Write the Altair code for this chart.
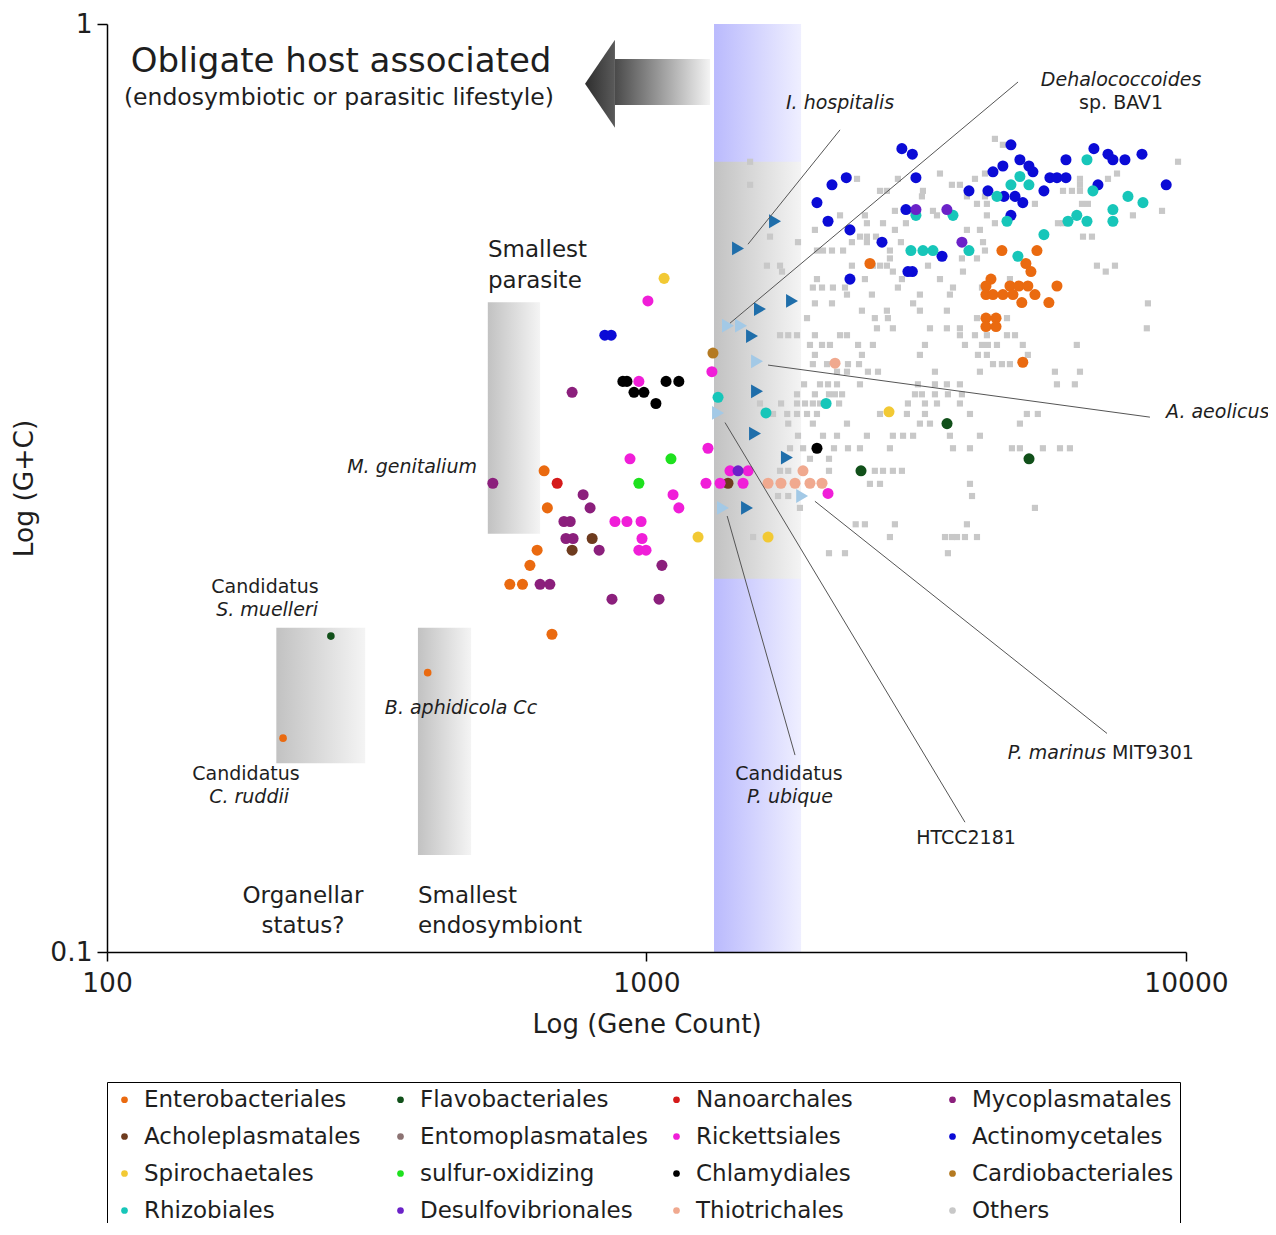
import altair as alt
import pandas as pd

FONT = "DejaVu Sans"
INK = "#1e1e1e"

# legend is filled column by column: 4 columns x 4 rows
categories = ["Enterobacteriales", "Acholeplasmatales", "Spirochaetales", "Rhizobiales",
              "Flavobacteriales", "Entomoplasmatales", "sulfur-oxidizing", "Desulfovibrionales",
              "Nanoarchales", "Rickettsiales", "Chlamydiales", "Thiotrichales",
              "Mycoplasmatales", "Actinomycetales", "Cardiobacteriales", "Others"]
palette = ["#ea6a10", "#6e3b1e", "#f2c934", "#17c6b9",
           "#11501a", "#8c7373", "#1ee11e", "#6b22c8",
           "#d51a1a", "#f01ed8", "#000000", "#f0a98f",
           "#8b1f7c", "#0b0bd6", "#b47a22", "#c8c8c8"]

# ---- coloured genomes (gene count, G+C fraction) ----
entero_gene = [2595, 4558, 5293, 5049, 5159, 4350, 4258, 4717, 4900, 5092, 5765, 4258, 4387, 4577,
               4778, 5248, 4962, 5570, 4258, 4445, 4258, 4445, 4983, 646, 655, 627, 608, 558, 589, 668]
entero_gc = [0.552, 0.570, 0.570, 0.552, 0.541, 0.531, 0.522, 0.522, 0.522, 0.522, 0.522, 0.511, 0.511, 0.511,
             0.511, 0.511, 0.501, 0.501, 0.482, 0.482, 0.472, 0.472, 0.432, 0.330, 0.301, 0.271, 0.261, 0.249, 0.249, 0.220]
flavo_gene = [2498, 3606, 5117]
flavo_gc = [0.330, 0.371, 0.340]
nano_gene = [683]
nano_gc = [0.320]
myco_gene = [519, 728, 763, 786, 703, 722, 709, 731, 817, 1068, 635, 662, 863, 1055]
myco_gc = [0.320, 0.401, 0.311, 0.301, 0.291, 0.291, 0.279, 0.279, 0.271, 0.261, 0.249, 0.249, 0.240, 0.240]
achole_gene = [793, 728, 1416]
achole_gc = [0.279, 0.271, 0.320]
entomo_gene = []
entomo_gc = []
rick_gene = [1006, 968, 1322, 1300, 932, 1120, 1148, 874, 920, 977, 981, 968, 998, 1289, 1428, 1543, 1510, 1369, 2170]
rick_gc = [0.503, 0.412, 0.422, 0.349, 0.340, 0.311, 0.301, 0.291, 0.291, 0.291, 0.279, 0.271, 0.271, 0.320,
           0.330, 0.330, 0.320, 0.320, 0.312]
actino_gene = [2974, 3110, 4737, 6750, 7168, 7320, 7706, 8287, 5991, 4922,
               5115, 4577, 4387, 5203, 5594, 5765, 5991, 2346, 2207, 3158,
               6868, 9190, 3960, 4294, 5453, 4597, 4820, 4983, 2070, 2170,
               2383, 3026, 4737, 2732, 3530, 3110, 3052, 2383, 837, 860]
actino_gc = [0.734, 0.724, 0.741, 0.734, 0.724, 0.714, 0.714, 0.724, 0.714, 0.714,
             0.703, 0.703, 0.693, 0.693, 0.683, 0.683, 0.683, 0.683, 0.671, 0.683,
             0.671, 0.671, 0.661, 0.661, 0.661, 0.652, 0.652, 0.642, 0.642, 0.613,
             0.600, 0.631, 0.622, 0.582, 0.562, 0.541, 0.541, 0.531, 0.462, 0.462]
spiro_gene = [1078, 1246, 1680, 2815]
spiro_gc = [0.532, 0.280, 0.280, 0.382]
sulfur_gene = [1110, 968]
sulfur_gc = [0.340, 0.320]
chlamy_gene = [904, 920, 948, 989, 1087, 1148, 1041, 2070]
chlamy_gc = [0.412, 0.412, 0.401, 0.401, 0.412, 0.412, 0.390, 0.349]
cardio_gene = [1328]
cardio_gc = [0.442]
rhizo_gene = [6553, 4922, 4737, 5115, 4463, 3158, 3699, 6722, 7806, 8322, 7320, 7320, 6275,
              6043, 6553, 4658, 5453, 3091, 3254, 3396, 3960, 4880, 1357, 1665, 2152]
rhizo_gc = [0.714, 0.685, 0.671, 0.671, 0.652, 0.622, 0.622, 0.661, 0.652, 0.642, 0.631, 0.613, 0.622,
            0.613, 0.613, 0.613, 0.593, 0.570, 0.570, 0.570, 0.570, 0.562, 0.396, 0.381, 0.390]
desulfo_gene = [3158, 3604, 3843, 1478]
desulfo_gc = [0.631, 0.631, 0.582, 0.330]
thio_gene = [2236, 1950, 1680, 1775, 1885, 2009, 2115]
thio_gc = [0.431, 0.330, 0.320, 0.320, 0.320, 0.320, 0.320]

# tiny endosymbiont genomes (B. aphidicola Cc, C. ruddii, S. muelleri)
endo_gene = [393, 212, 260]
endo_gc = [0.200, 0.170, 0.219]
endo_cat = ["Enterobacteriales", "Enterobacteriales", "Flavobacteriales"]

# ---- other genomes, by G+C row ----
others_gc = [0.752, 0.741, 0.7105, 0.690, 0.681, 0.671, 0.661, 0.652, 0.640, 0.629, 0.622, 0.610,
             0.600, 0.590, 0.582, 0.570, 0.559, 0.549, 0.541, 0.531, 0.520, 0.511, 0.500, 0.491,
             0.482, 0.470, 0.462, 0.451, 0.440, 0.430, 0.422, 0.409, 0.399, 0.390, 0.380, 0.371,
             0.360, 0.349, 0.340, 0.330, 0.3195, 0.310, 0.301, 0.289, 0.280, 0.269]
others_gene = [
    [4424], [4577], [1556, 9666], [3499, 4240, 7450], [2456, 2924, 4063, 6360, 7168],
    [1556, 3682, 3810, 6360], [2709, 2790, 3254, 5916, 6146, 6360], [3240, 3926, 4240],
    [4098, 4275, 5248, 6415, 6580], [2887, 3052, 3396, 9027], [2284, 2540, 3455, 4275, 7973],
    [2562, 2744, 3026, 4424, 5790, 5916], [2052, 2887, 3926, 4150],
    [1694, 2487, 2562, 2663, 6443, 6694], [1909, 2403, 2562, 2962, 4205],
    [2070, 2124, 2207, 2314, 2826, 4240], [2826, 3843, 4098],
    [1672, 1768, 2403, 2628, 2709, 2790, 3325, 6838, 7385], [1783, 2862, 3860, 7100],
    [2070, 2540, 2975, 3499, 4717], [2034, 2115, 2216, 2333, 2924, 3699, 4186],
    [2353, 2617, 3212, 3651], [2052, 2207, 3120, 8500], [2508, 2790, 3212, 3604],
    [1984, 2650, 2802, 4098, 4658], [2674, 2862, 3353, 3604, 3810, 8460],
    [1768, 1831, 1901, 2052, 2284, 2353, 3810, 4063, 4275, 4658, 4820],
    [2009, 2115, 2188, 2467, 2628, 3282, 3893, 4186, 4294, 4463, 4983, 6275],
    [2052, 2508, 3212, 4115, 4275, 5092], [2034, 2161, 2363, 2477, 4388, 4558, 4717],
    [2255, 2353, 2573, 2686, 3425, 4150, 5715, 6360],
    [1959, 2097, 2170, 2255, 2487, 3185, 3425, 3604, 3810, 5765, 6223],
    [1901, 2052, 2179, 2235, 2304, 3145, 3240, 3425, 3620, 3843],
    [1623, 1776, 1901, 1967, 2034, 2097, 2275, 3052, 3282, 3455, 3810],
    [1716, 1823, 1901, 1984, 2070, 2709, 3039, 3282, 3977, 5070, 5313],
    [1831, 2034, 2353, 3212, 3353, 4922],
    [1909, 2124, 2255, 2562, 2862, 2989, 3120, 3651, 4150],
    [1845, 1951, 2226, 2363, 2487, 2826, 3699, 3977, 4757, 4922, 5429, 5840, 6093],
    [2009, 2179], [1768, 1831, 2179, 2650, 2744, 2862, 2975], [2595, 2709, 3977],
    [1753, 1831, 4012], [1925, 5248], [2442, 2540, 2887, 3926],
    [1576, 2826, 3575, 3682, 3763, 3893, 4098], [2179, 2333, 3620],
]

# highlighted free-living streamlined genomes (triangles)
dark_tri_gene = [1478, 1731, 1623, 1861, 1569, 1603, 1589, 1821, 1536]
dark_tri_gc = [0.573, 0.613, 0.493, 0.503, 0.461, 0.402, 0.362, 0.341, 0.301]
light_tri_gene = [1416, 1497, 1603, 1357, 1943, 1386]
light_tri_gc = [0.473, 0.473, 0.433, 0.381, 0.310, 0.301]

# leader lines
lead_gene1 = [1542, 1428, 1680, 2052, 1398, 1411]
lead_gc1 = [0.579, 0.476, 0.429, 0.306, 0.372, 0.295]
lead_gene2 = [2284, 4883, 8573, 7138, 3893, 1885]
lead_gc2 = [0.769, 0.866, 0.377, 0.172, 0.138, 0.163]

# shaded regions (gene from, gene to, gc low, gc high)
band_region = [1334, 1934, 0.1, 1.0]
gray_regions = [[1334, 1934, 0.2524, 0.7105],
                [508, 635, 0.2823, 0.5014],
                [206, 301, 0.1597, 0.2236],
                [377, 473, 0.1272, 0.2236]]
arrow_shaft = [874, 1312, 0.818, 0.917]
arrow_head = [820, 0.862]

# ---------------- data frames ----------------
groups = [
    ("Enterobacteriales", entero_gene, entero_gc), ("Flavobacteriales", flavo_gene, flavo_gc),
    ("Nanoarchales", nano_gene, nano_gc), ("Mycoplasmatales", myco_gene, myco_gc),
    ("Acholeplasmatales", achole_gene, achole_gc), ("Entomoplasmatales", entomo_gene, entomo_gc),
    ("Rickettsiales", rick_gene, rick_gc), ("Actinomycetales", actino_gene, actino_gc),
    ("Spirochaetales", spiro_gene, spiro_gc), ("sulfur-oxidizing", sulfur_gene, sulfur_gc),
    ("Chlamydiales", chlamy_gene, chlamy_gc), ("Cardiobacteriales", cardio_gene, cardio_gc),
    ("Rhizobiales", rhizo_gene, rhizo_gc), ("Desulfovibrionales", desulfo_gene, desulfo_gc),
    ("Thiotrichales", thio_gene, thio_gc),
]
recs = []
for c, gs in zip(others_gc, others_gene):
    for g in gs:
        recs.append({"gene": g, "gc": c, "cat": "Others", "mk": "square", "sz": 38})
for cat, gs, cs in groups:
    for g, c in zip(gs, cs):
        recs.append({"gene": g, "gc": c, "cat": cat, "mk": "circle", "sz": 122})
for g, c, cat in zip(endo_gene, endo_gc, endo_cat):
    recs.append({"gene": g, "gc": c, "cat": cat, "mk": "circle", "sz": 58})
pts = pd.DataFrame(recs)

dark_df = pd.DataFrame({"gene": dark_tri_gene, "gc": dark_tri_gc})
light_df = pd.DataFrame({"gene": light_tri_gene, "gc": light_tri_gc})
lead_df = pd.DataFrame({"gene": lead_gene1, "gc": lead_gc1, "gene2": lead_gene2, "gc2": lead_gc2})
band_df = pd.DataFrame([dict(zip(["gene", "gene2", "gc", "gc2"], band_region))])
gray_df = pd.DataFrame([dict(zip(["gene", "gene2", "gc", "gc2"], r)) for r in gray_regions])
shaft_df = pd.DataFrame([dict(zip(["gene", "gene2", "gc", "gc2"], arrow_shaft))])
head_df = pd.DataFrame([{"gene": arrow_head[0], "gc": arrow_head[1]}])

# ---------------- encodings ----------------
xscale = alt.Scale(type="log", domain=[100, 10000], nice=False)
yscale = alt.Scale(type="log", domain=[0.1, 1], nice=False)
xaxis = alt.Axis(title="Log (Gene Count)", values=[100, 1000, 10000], format="d", grid=False,
                 labelFontSize=26.5, titleFontSize=26, tickSize=9, labelPadding=9, titlePadding=15,
                 domainColor="black", tickColor="black", domainWidth=1.5, tickWidth=1.5,
                 labelColor=INK, titleColor=INK, labelFont=FONT, titleFont=FONT,
                 titleFontWeight="normal", labelFlush=False, zindex=1)
yaxis = alt.Axis(title="Log (G+C)", values=[0.1, 1], format="~g", grid=False,
                 labelFontSize=26.5, titleFontSize=26.5, tickSize=10, labelPadding=5, titlePadding=11,
                 domainColor="black", tickColor="black", domainWidth=1.5, tickWidth=1.5,
                 labelColor=INK, titleColor=INK, labelFont=FONT, titleFont=FONT,
                 titleFontWeight="normal", zindex=1)


def X(f="gene"):
    return alt.X(f"{f}:Q", scale=xscale, axis=xaxis)


def Y(f="gc"):
    return alt.Y(f"{f}:Q", scale=yscale, axis=yaxis)


def grad(c0, c1):
    return alt.LinearGradient(gradient="linear",
                              stops=[alt.GradientStop(color=c0, offset=0),
                                     alt.GradientStop(color=c1, offset=1)],
                              x1=0, x2=1, y1=0, y2=0)


band = alt.Chart(band_df).mark_rect(color=grad("#babafd", "#efefff")).encode(
    x=X(), x2="gene2:Q", y=Y(), y2="gc2:Q")
grays = alt.Chart(gray_df).mark_rect(color=grad("#c2c2c2", "#f4f4f4")).encode(
    x=X(), x2="gene2:Q", y=Y(), y2="gc2:Q")
shaft = alt.Chart(shaft_df).mark_rect(color=grad("#4a4a4a", "#f4f4f4")).encode(
    x=X(), x2="gene2:Q", y=Y(), y2="gc2:Q")
head = alt.Chart(head_df).mark_point(shape="M -0.34 0 L 0.34 -1 L 0.34 1 Z", size=7744, filled=True,
                                     opacity=1, color=grad("#2e2e2e", "#5a5a5a")).encode(x=X(), y=Y())

points = alt.Chart(pts).mark_point(filled=True, opacity=1).encode(
    x=X(), y=Y(),
    color=alt.Color("cat:N", scale=alt.Scale(domain=categories, range=palette),
                    legend=alt.Legend(title=None, orient="none", legendX=0, legendY=1058, columns=4,
                                      symbolType="circle", symbolSize=45, labelFontSize=23,
                                      labelFont=FONT, labelColor=INK, strokeColor="black",
                                      padding=6, rowPadding=13, columnPadding=17, gridAlign="all",
                                      labelOffset=8, labelLimit=400)),
    shape=alt.Shape("mk:N", scale=alt.Scale(domain=["circle", "square"], range=["circle", "square"]),
                    legend=None),
    size=alt.Size("sz:Q", scale=None, legend=None),
)

tri_dark = alt.Chart(dark_df).mark_point(shape="triangle-right", filled=True, opacity=1, size=190,
                                         color="#1f6eaa").encode(x=X(), y=Y())
tri_light = alt.Chart(light_df).mark_point(shape="triangle-right", filled=True, opacity=1, size=190,
                                           color="#a3c9e6").encode(x=X(), y=Y())

leads = alt.Chart(lead_df).mark_rule(color="#555555", strokeWidth=1).encode(
    x=X(), y=Y(), x2="gene2:Q", y2="gc2:Q")


# ---------------- text ----------------
def texts(labels, genes, gcs, size, align="center", style="normal"):
    df = pd.DataFrame({"label": labels, "gene": genes, "gc": gcs})
    return alt.Chart(df).mark_text(font=FONT, fontSize=size, fontStyle=style, align=align,
                                   baseline="middle", color=INK).encode(x=X(), y=Y(), text="label:N")


t_title = texts(["Obligate host associated"], [271.5], [0.9101], 34)
t_sub = texts(["(endosymbiotic or parasitic lifestyle)"], [269], [0.8326], 23.5)
t_big_c = texts(["Organellar", "status?"], [230.8, 230.8], [0.1149, 0.1066], 23)
t_big_l = texts(["Smallest", "parasite", "Smallest", "endosymbiont"],
                [508.4, 508.4, 377, 377], [0.5701, 0.528, 0.1149, 0.1066], 23, align="left")
t_norm_c = texts(["sp. BAV1", "HTCC2181", "Candidatus", "Candidatus", "Candidatus"],
                 [7580, 3910, 1837, 196.3, 181], [0.822, 0.1326, 0.1554, 0.2474, 0.1554], 19)
t_norm_l = texts(["MIT9301"], [7291], [0.1637], 19, align="left")
t_ital_c = texts(["I. hospitalis", "Dehalococcoides", "P. ubique", "S. muelleri", "C. ruddii",
                  "B. aphidicola Cc"],
                 [2284, 7580, 1845, 198, 183.4, 453], [0.822, 0.8707, 0.1468, 0.2338, 0.1468, 0.183],
                 19, style="italic")
t_ital_l = texts(["A. aeolicus"], [9183], [0.3818], 19, align="left", style="italic")
t_ital_r = texts(["M. genitalium", "P. marinus"], [485, 7107], [0.3332, 0.1637], 19,
                 align="right", style="italic")

chart = alt.layer(
    band, grays, shaft, head, points, tri_dark, tri_light, leads,
    t_title, t_sub, t_big_c, t_big_l, t_norm_c, t_norm_l, t_ital_c, t_ital_l, t_ital_r,
).properties(
    width=1079, height=928,
    autosize=alt.AutoSizeParams(type="none"),
    padding={"left": 99, "top": 16, "right": 82, "bottom": 271},
).configure(font=FONT).configure_view(strokeWidth=0)

chart.save("out.html", embed_options={"renderer": "svg", "actions": False})
